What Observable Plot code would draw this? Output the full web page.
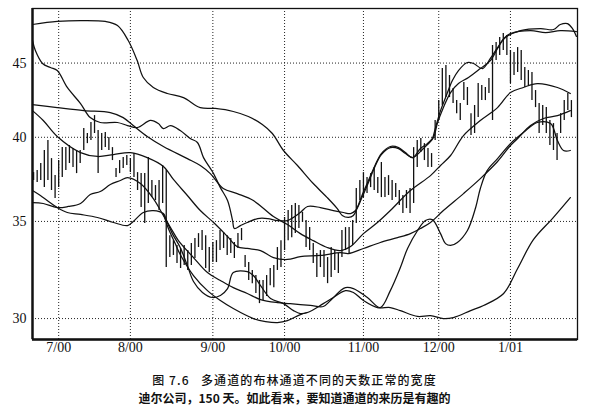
<!DOCTYPE html>
<html><head><meta charset="utf-8">
<script src="https://cdn.jsdelivr.net/npm/d3@7"></script>
<script src="https://cdn.jsdelivr.net/npm/@observablehq/plot@0.6"></script>
<style>
body{margin:0;background:#fff;}
#chart svg{display:block;}
.cap{width:589px;text-align:center;font-family:"Noto Sans CJK SC",sans-serif;color:#111;line-height:18px;height:18px;white-space:pre;font-size:12px;}
</style></head><body>
<div id="chart"></div>
<div class="cap" style="margin-top:5px;font-weight:500;letter-spacing:1.1px">图 7.6   多通道的布林通道不同的天数正常的宽度</div>
<div class="cap" style="font-weight:700">迪尔公司，150 天。如此看来，要知道通道的来历是有趣的</div>
<script>
// month tick positions (trading-day index) and labels
const monthDays = [7, 27, 50, 70, 92, 113, 133];
const monthLabels = ["7/00", "8/00", "9/00", "10/00", "11/00", "12/00", "1/01"];
const yTicks = [30, 35, 40, 45];
const xDomain = [-0.3, 151.7];
const yDomain = [29.02, 49.07];

// daily bars (index 0..150)
const barHigh = [37.82,37.94,38.37,39.17,39.79,38.67,37.64,38.55,39.35,39.35,
 39.48,39.29,39.17,39.17,40.56,40.24,40.95,41.40,40.43,40.24,
 40.30,39.98,39.35,38.07,38.55,38.73,38.86,38.67,38.98,37.82,
 37.76,37.76,38.73,37.35,37.05,37.35,38.25,37.94,34.22,33.95,
 33.69,33.53,33.69,33.42,33.79,34.06,34.33,34.50,34.22,33.58,
 33.85,33.95,34.50,34.39,34.22,34.06,33.85,34.33,34.61,33.16,
 32.79,32.38,32.12,31.87,31.87,32.12,32.48,32.63,33.58,33.95,
 35.22,35.61,35.89,36.01,35.89,35.50,35.05,34.66,33.79,33.26,
 33.42,33.42,33.05,33.58,33.42,33.26,34.50,34.66,34.66,35.05,
 36.88,37.35,37.82,37.52,37.76,38.13,37.52,38.43,37.52,37.64,
 37.35,37.17,36.76,36.47,36.76,36.88,39.35,39.79,39.92,39.60,
 39.29,38.98,41.08,42.40,44.61,44.82,44.12,43.22,42.40,42.20,
 43.63,43.29,41.53,42.07,43.56,43.42,43.29,43.91,46.27,46.49,
 46.86,47.16,47.01,45.90,45.76,46.12,45.90,44.68,44.47,44.33,
 43.08,42.20,42.07,41.93,41.08,40.88,40.24,41.53,42.40,42.88,
 42.40];
const barLow = [37.35,37.23,37.35,36.93,37.35,36.76,36.29,36.93,37.52,37.94,
 38.37,38.13,37.76,38.37,39.17,39.60,39.79,40.24,37.76,39.17,
 39.35,39.17,38.55,37.52,37.76,38.07,38.25,37.82,37.52,36.76,
 35.78,34.88,36.01,36.35,36.18,35.61,36.01,32.53,33.05,33.16,
 32.74,32.48,32.63,32.38,32.63,33.00,33.58,33.42,32.48,32.27,
 32.79,32.79,33.42,33.53,33.16,33.26,33.00,33.53,33.95,32.53,
 31.87,31.71,31.22,30.72,30.87,31.07,31.61,31.51,32.38,32.53,
 33.42,33.95,34.11,34.33,34.61,34.94,33.58,33.42,32.74,32.02,
 32.53,32.02,31.71,32.02,32.38,32.22,33.05,33.42,33.26,33.69,
 34.88,36.18,36.35,36.58,36.93,36.76,36.58,36.35,36.35,36.47,
 36.18,36.35,35.89,35.44,35.72,35.44,36.01,38.13,39.04,38.55,
 38.13,38.13,39.79,41.08,42.07,42.60,42.60,42.20,41.53,41.08,
 42.40,42.07,40.11,40.24,41.27,42.40,42.40,42.88,41.08,45.18,
 45.54,45.90,45.54,43.56,44.12,44.33,43.77,43.29,43.42,42.40,
 41.93,40.24,40.75,40.24,39.48,39.17,38.55,40.24,41.08,41.73,
 41.27];

// band lines (day index, price)
const upperADay = [-0.3,6.6,13.1,20.0,23.4,26.4,28.9,30.6,33.4,37.3,41.8,46.5,50.7,55.7,59.9,63.8,66.6,69.7,73.6,78.0,81.9,84.7,86.1,87.8,89.2,90.3,91.7,93.4,95.1,97.0,99.5,101.8,103.7,105.7,107.9,109.8,111.2,112.1,113.5,114.9,116.8,118.5,121.0,122.7,125.2,127.4,129.4,131.6,135.8,141.4,145.0,146.9,148.9,150.3,151.4];
const upperAVal = [47.84,48.07,48.14,48.07,47.76,46.64,45.18,43.98,43.29,42.88,42.60,41.93,41.87,41.67,41.34,40.82,40.24,39.17,38.25,37.17,36.35,35.72,35.33,35.22,35.33,35.78,36.53,37.35,38.19,38.98,39.42,39.35,39.04,38.73,39.29,39.60,39.92,40.62,41.73,42.60,43.77,44.47,45.04,44.97,44.61,45.33,46.12,46.86,47.38,47.53,47.46,47.84,47.91,47.53,46.94];

const upperBDay = [-0.3,0.5,2.5,4.7,6.6,9.4,13.1,15.8,18.6,23.4,26.2,28.9,32.6,34.8,36.2,38.2,40.9,43.7,45.7,47.4,49.3,50.2,52.1,54.1,55.5,56.0,57.7,59.6,62.5,65.3,68.0,70.8,74.4,76.4,80.0,83.6,86.4,88.4,89.8,91.7,93.4,95.1,97.0,99.5,101.8,103.7,105.7,108.7,111.5,112.6,114.3,116.3,118.5,121.3,124.6,127.4,129.4,131.1,133.0,138.6,142.8,146.9,151.4];
const upperBVal = [46.64,45.90,44.97,44.68,44.47,43.29,42.20,41.27,40.95,40.95,40.75,40.62,41.08,40.88,40.56,40.75,40.43,39.92,39.67,38.73,38.07,37.76,36.93,36.18,35.05,34.61,34.77,34.94,35.16,35.16,35.05,35.05,35.50,35.84,35.78,35.61,35.50,35.44,35.61,36.41,37.23,38.13,38.92,39.35,39.29,38.98,38.73,39.29,39.98,40.88,41.93,42.94,43.56,43.98,44.61,45.18,46.05,46.78,47.16,47.38,47.23,47.38,47.31];

const midADay = [-0.3,6.6,14.0,21.4,25.0,27.8,31.7,36.2,42.9,46.5,49.3,52.9,56.8,61.3,66.9,70.8,74.4,78.0,81.9,85.6,88.4,92.0,95.9,99.5,105.1,110.7,113.5,116.3,119.9,124.6,129.4,133.0,136.6,140.5,146.1,149.7];
const midAVal = [42.13,41.93,41.73,41.60,41.27,40.75,40.05,39.42,38.67,38.25,37.76,36.88,36.58,36.18,35.27,34.83,34.33,33.95,33.58,33.42,33.63,34.33,34.94,35.61,36.76,37.64,38.25,38.86,40.11,41.08,41.93,42.94,43.29,43.56,43.29,42.88];

const midBDay = [-0.3,2.7,6.6,13.1,17.8,22.3,27.0,31.7,36.2,39.0,42.9,46.5,50.2,54.1,56.8,59.6,63.3,66.9,70.8,74.4,80.0,85.6,87.8,92.0,96.7,101.5,105.1,107.9,110.7,114.3,119.9,124.6,129.4,133.0,135.0,138.6,142.2,146.1,149.7];
const midBVal = [41.73,41.08,40.05,39.04,38.80,38.92,39.04,38.73,38.19,37.41,36.47,35.61,34.94,34.17,33.63,33.53,33.42,33.05,32.95,33.10,33.16,33.31,33.26,33.53,33.85,34.11,34.33,34.61,34.94,35.61,36.58,37.46,38.49,39.48,39.92,40.75,41.21,41.40,41.73];

const lowerADay = [-0.3,2.7,6.6,9.7,13.1,15.8,18.6,21.4,24.2,26.2,29.8,33.4,36.2,38.2,40.4,44.6,48.5,52.1,55.7,59.6,63.3,68.0,71.6,77.2,80.8,82.8,85.6,87.0,89.2,93.1,96.7,99.5,102.3,104.3,107.1,109.3,111.2,113.5,114.9,116.3,118.2,121.0,123.3,124.6,126.5,129.4,133.0,136.6,140.5,144.2,146.1,147.8,149.7];
const lowerAVal = [36.06,36.01,35.78,35.84,36.01,36.53,36.70,37.11,37.35,37.52,37.17,36.29,35.33,34.66,33.95,33.05,32.27,31.87,31.51,31.22,30.92,30.77,30.72,30.63,30.58,30.87,31.36,31.51,31.46,31.02,30.53,31.36,32.53,33.53,34.50,35.05,35.10,34.33,33.79,33.69,33.85,34.50,35.78,36.88,37.94,38.67,39.60,40.30,40.95,40.88,39.79,39.17,39.17];

const lowerBDay = [-0.3,1.9,3.8,6.6,9.4,13.1,17.8,22.3,26.2,27.8,30.6,33.4,36.2,37.3,38.7,40.9,42.9,44.6,47.1,49.9,52.1,54.1,55.7,59.6,61.3,63.3,66.1,69.7,72.5,74.4,76.4,80.8,83.6,87.0,89.2,92.0,95.9,99.5,102.3,107.1,110.7,114.3,117.1,121.9,125.5,131.1,135.0,139.4,144.7,149.7];
const lowerBVal = [36.76,36.47,36.18,35.78,35.50,35.39,35.22,34.94,34.77,35.00,35.50,35.61,35.44,34.94,34.33,33.58,32.63,31.82,31.27,31.02,31.12,31.46,32.27,32.32,32.12,31.61,30.97,30.72,30.38,30.24,30.29,30.72,31.02,31.36,31.27,30.87,30.53,30.53,30.38,30.10,30.14,30.00,30.05,30.38,30.63,31.22,32.48,34.00,35.16,36.35];

const lowerCDay = [36.2,37.6,39.5,40.9,44.6,48.5,52.1,55.7,61.3,64.7,68.0,70.8,74.4,76.4];
const lowerCVal = [35.44,34.61,33.79,33.21,32.12,31.36,30.87,30.48,30.00,29.86,29.81,29.90,30.19,30.29];

const bands = [
  ["upperA", upperADay, upperAVal], ["upperB", upperBDay, upperBVal],
  ["midA", midADay, midAVal], ["midB", midBDay, midBVal],
  ["lowerA", lowerADay, lowerAVal], ["lowerB", lowerBDay, lowerBVal],
  ["lowerC", lowerCDay, lowerCVal]
];
const lineRows = bands.flatMap(([name, days, vals]) => days.map((d, i) => ({band: name, day: d, value: vals[i]})));
const bars = barHigh.map((h, i) => ({day: i, high: h, low: barLow[i]}));

const font = "Liberation Serif, Times New Roman, serif";
const chart = Plot.plot({
  width: 589, height: 366,
  marginLeft: 32, marginRight: 12, marginTop: 8, marginBottom: 27,
  style: {background: "#fff", color: "#111"},
  x: {domain: xDomain},
  y: {type: "log", domain: yDomain},
  marks: [
    Plot.ruleY(yTicks, {stroke: "#222", strokeWidth: 1, strokeDasharray: "1,2"}),
    Plot.ruleX(monthDays, {stroke: "#222", strokeWidth: 1, strokeDasharray: "1,2"}),
    Plot.ruleX(bars, {x: "day", y1: "low", y2: "high", stroke: "#111", strokeWidth: 1.3}),
    Plot.line(lineRows, {x: "day", y: "value", z: "band", curve: "catmull-rom", stroke: "#111", strokeWidth: 1.25}),
    Plot.frame({stroke: "#111", strokeWidth: 1.3}),
    Plot.ruleX([xDomain[0]], {stroke: "#111", strokeWidth: 2.4}),
    Plot.ruleY([yDomain[0]], {stroke: "#111", strokeWidth: 2.4}),
    Plot.axisY(yTicks, {anchor: "left", tickSize: 0, tickPadding: 6, fontSize: 14, fontFamily: font, label: null, fill: "#111"}),
    Plot.axisX(monthDays, {anchor: "bottom", tickSize: 0, tickPadding: 3, fontSize: 14, fontFamily: font, label: null, fill: "#111",
      tickFormat: d => monthLabels[monthDays.indexOf(d)]})
  ]
});
document.getElementById("chart").appendChild(chart);
</script>
</body></html>
